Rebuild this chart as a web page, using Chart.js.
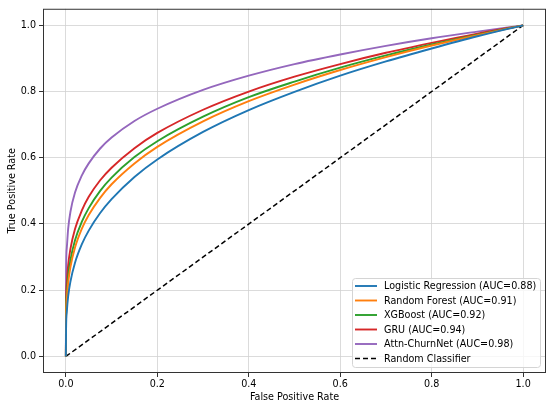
<!DOCTYPE html>
<html>
<head>
<meta charset="utf-8">
<script src="https://cdn.jsdelivr.net/npm/chart.js@4.4.0/dist/chart.umd.min.js"></script>
<style>
  html, body { margin: 0; padding: 0; background: #fff; }
  #wrap { width: 550px; height: 408px; position: relative; }
</style>
</head>
<body>
<div id="wrap"><canvas id="roc"></canvas></div>
<script>
// false positive rate sample points (shared by all curves)
const fpr = [0, 0.0005, 0.002, 0.005, 0.01, 0.02, 0.035, 0.05, 0.075, 0.1, 0.15, 0.2, 0.3, 0.4, 0.5, 0.6, 0.7, 0.8, 0.9, 1.0];

// true positive rate
const tprLogReg = [0, 0.086, 0.134, 0.181, 0.226, 0.283, 0.339, 0.380, 0.433, 0.475, 0.542, 0.595, 0.678, 0.744, 0.799, 0.848, 0.891, 0.930, 0.967, 1.0];
const tprForest = [0, 0.115, 0.171, 0.222, 0.270, 0.329, 0.386, 0.427, 0.479, 0.520, 0.583, 0.633, 0.710, 0.771, 0.821, 0.865, 0.904, 0.939, 0.970, 1.0];
const tprXgb    = [0, 0.130, 0.189, 0.242, 0.291, 0.351, 0.407, 0.448, 0.500, 0.540, 0.602, 0.650, 0.724, 0.783, 0.830, 0.872, 0.909, 0.942, 0.972, 1.0];
const tprGru    = [0, 0.157, 0.220, 0.275, 0.325, 0.385, 0.441, 0.482, 0.532, 0.570, 0.629, 0.675, 0.745, 0.800, 0.845, 0.883, 0.917, 0.947, 0.975, 1.0];
const tprAttn   = [0, 0.255, 0.327, 0.385, 0.437, 0.495, 0.547, 0.583, 0.628, 0.661, 0.711, 0.748, 0.805, 0.848, 0.883, 0.912, 0.938, 0.961, 0.981, 1.0];

const diagX = [0, 1];
const diagY = [0, 1];

const labels = [
  'Logistic Regression (AUC=0.88)',
  'Random Forest (AUC=0.91)',
  'XGBoost (AUC=0.92)',
  'GRU (AUC=0.94)',
  'Attn-ChurnNet (AUC=0.98)',
  'Random Classifier'
];
const colors = ['#1f77b4', '#ff7f0e', '#2ca02c', '#d62728', '#9467bd', '#000000'];
const axisTicks = [0, 0.2, 0.4, 0.6, 0.8, 1.0];

const FONT = 'DejaVu Sans';

function pts(xs, ys) {
  return xs.map((x, i) => ({ x: x, y: ys[i] }));
}

const series = [tprLogReg, tprForest, tprXgb, tprGru, tprAttn];
const datasets = series.map((ys, i) => ({
  label: labels[i],
  data: pts(fpr, ys),
  borderColor: colors[i],
  borderWidth: 1.9,
  pointRadius: 0,
  fill: false,
  cubicInterpolationMode: 'monotone'
}));
datasets.push({
  label: labels[5],
  data: pts(diagX, diagY),
  borderColor: colors[5],
  borderWidth: 1.5,
  borderDash: [5, 3],
  pointRadius: 0,
  fill: false
});

// box around the axes + legend drawn inside the plot (lower right)
const framePlugin = {
  id: 'frame',
  afterDraw(chart) {
    const { ctx, chartArea: a } = chart;
    ctx.save();
    ctx.strokeStyle = '#333';
    ctx.lineWidth = 1;
    ctx.strokeRect(a.left + 0.5, a.top + 0.5, a.right - a.left - 1, a.bottom - a.top - 1);

    // legend
    const bx = 352.5, by = 278.5, bw = 188, bh = 89, r = 3;
    ctx.beginPath();
    ctx.moveTo(bx + r, by);
    ctx.arcTo(bx + bw, by, bx + bw, by + bh, r);
    ctx.arcTo(bx + bw, by + bh, bx, by + bh, r);
    ctx.arcTo(bx, by + bh, bx, by, r);
    ctx.arcTo(bx, by, bx + bw, by, r);
    ctx.closePath();
    ctx.fillStyle = 'rgba(255,255,255,0.8)';
    ctx.fill();
    ctx.strokeStyle = '#d4d4d4';
    ctx.stroke();

    ctx.font = '9.6px "' + FONT + '"';
    ctx.textBaseline = 'middle';
    ctx.textAlign = 'left';
    chart.data.datasets.forEach((ds, i) => {
      const y = 286 + i * 14.5;
      ctx.beginPath();
      ctx.strokeStyle = ds.borderColor;
      ctx.lineWidth = ds.borderWidth;
      ctx.setLineDash(ds.borderDash || []);
      ctx.moveTo(355, y);
      ctx.lineTo(377, y);
      ctx.stroke();
      ctx.setLineDash([]);
      ctx.fillStyle = '#000';
      ctx.fillText(ds.label, 384, y + 0.5);
    });
    ctx.restore();
  }
};

const gridCfg = {
  color: '#d2d2d2',
  lineWidth: 0.8,
  borderDash: [3, 3],
  drawTicks: true,
  tickLength: 4,
  tickColor: '#333',
  tickWidth: 1,
  tickBorderDash: []
};

new Chart(document.getElementById('roc'), {
  type: 'line',
  data: { datasets: datasets },
  plugins: [framePlugin],
  options: {
    responsive: true,
    maintainAspectRatio: false,
    animation: false,
    layout: { padding: { top: 5, right: 4, left: 7, bottom: 5 } },
    plugins: {
      legend: { display: false },
      tooltip: { enabled: false }
    },
    scales: {
      x: {
        type: 'linear',
        min: -0.05,
        max: 1.05,
        afterBuildTicks: s => { s.ticks = axisTicks.map(v => ({ value: v })); },
        afterFit: s => { s.height = 30; },
        grid: gridCfg,
        border: { display: false },
        ticks: {
          color: '#000',
          padding: 2,
          maxRotation: 0,
          font: { family: FONT, size: 9.6 },
          callback: v => v.toFixed(1)
        },
        title: {
          display: true,
          text: 'False Positive Rate',
          color: '#000',
          padding: { top: 0, bottom: 0 },
          font: { family: FONT, size: 9.6 }
        }
      },
      y: {
        type: 'linear',
        min: -0.05,
        max: 1.05,
        afterBuildTicks: s => { s.ticks = axisTicks.map(v => ({ value: v })); },
        afterFit: s => { s.width = 36; },
        grid: gridCfg,
        border: { display: false },
        ticks: {
          color: '#000',
          padding: 3,
          font: { family: FONT, size: 9.6 },
          callback: v => v.toFixed(1)
        },
        title: {
          display: true,
          text: 'True Positive Rate',
          color: '#000',
          padding: { top: 0, bottom: 0 },
          font: { family: FONT, size: 9.6 }
        }
      }
    }
  }
});
</script>
</body>
</html>
